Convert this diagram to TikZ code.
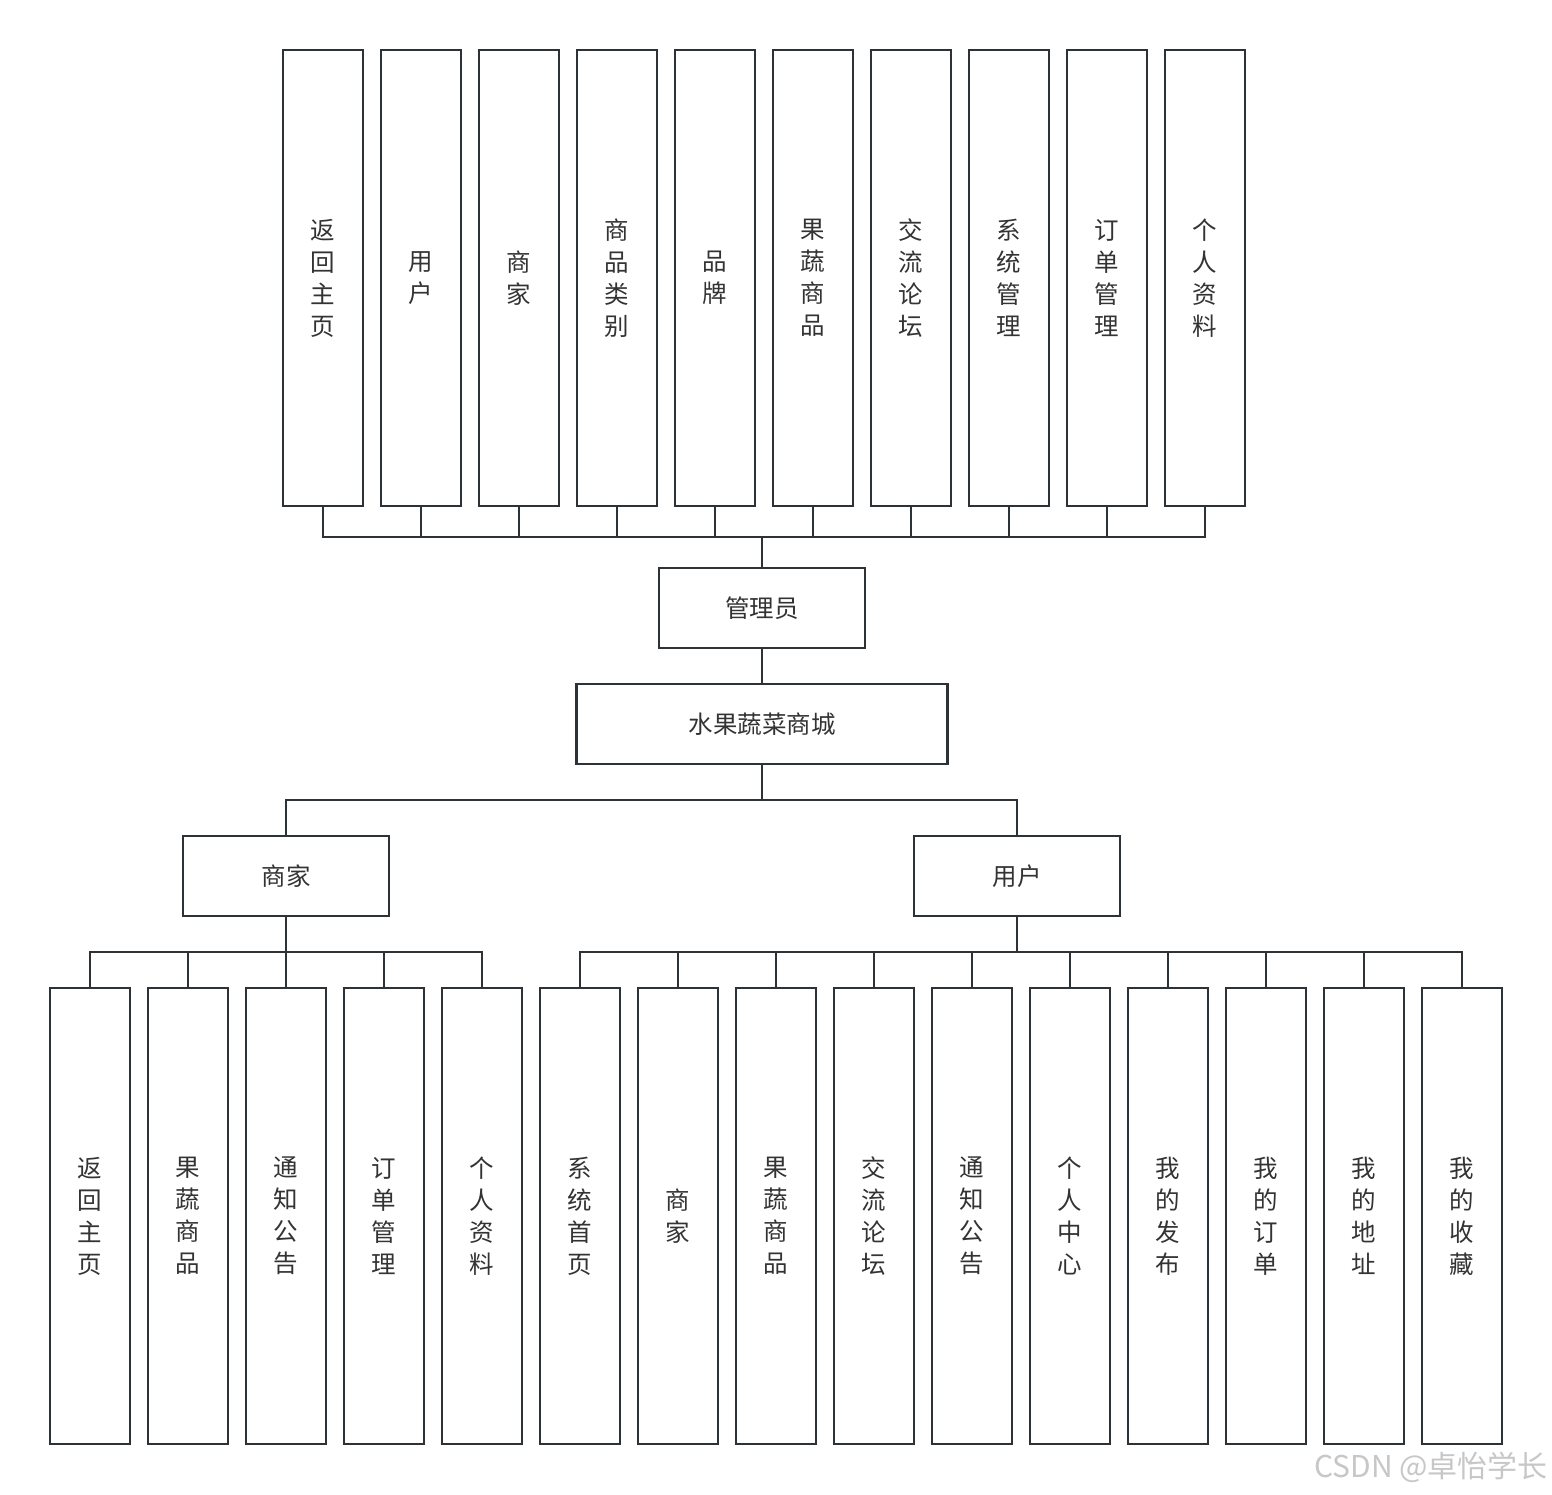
\documentclass[tikz,border=0pt]{standalone}
\usepackage{fontspec}
\setmainfont{Noto Sans CJK SC}
\definecolor{linec}{HTML}{2D3236}
\definecolor{txtc}{HTML}{333333}
\begin{document}
\begin{tikzpicture}[x=1pt,y=-1pt,
  box/.style={draw=linec,line width=2.6pt,fill=white,text=txtc,align=center,inner sep=0pt,
    font=\fontsize{24.5}{32}\selectfont},
  vbox/.style={box,minimum width=80pt,minimum height=456pt},
  hbox/.style={box,minimum height=80pt},
  conn/.style={draw=linec,line width=2.6pt}]
\useasboundingbox (0,0) rectangle (1552,1494);
\fill[white] (0,0) rectangle (1552,1494);
% top row
\foreach \i/\t in {0/{返\\回\\主\\页},1/{用\\户},2/{商\\家},3/{商\\品\\类\\别},4/{品\\牌},5/{果\\蔬\\商\\品},6/{交\\流\\论\\坛},7/{系\\统\\管\\理},8/{订\\单\\管\\理},9/{个\\人\\资\\料}}{
  \node[vbox] (t\i) at ({323+98*\i},278) {\t};
}
\node[hbox,minimum width=206pt] (admin) at (762,608) {管理员};
\node[hbox,minimum width=371pt] (shop) at (762,724) {水果蔬菜商城};
\node[hbox,minimum width=206pt] (merchant) at (286,876) {商家};
\node[hbox,minimum width=206pt] (user) at (1017,876) {用户};
% merchant children
\foreach \i/\t in {0/{返\\回\\主\\页},1/{果\\蔬\\商\\品},2/{通\\知\\公\\告},3/{订\\单\\管\\理},4/{个\\人\\资\\料}}{
  \node[vbox] (m\i) at ({90+98*\i},1216) {\t};
}
% user children
\foreach \i/\t in {0/{系\\统\\首\\页},1/{商\\家},2/{果\\蔬\\商\\品},3/{交\\流\\论\\坛},4/{通\\知\\公\\告},5/{个\\人\\中\\心},6/{我\\的\\发\\布},7/{我\\的\\订\\单},8/{我\\的\\地\\址},9/{我\\的\\收\\藏}}{
  \node[vbox] (u\i) at ({580+98*\i},1216) {\t};
}
\coordinate (topbus) at (762,537);
\coordinate (sbus) at (762,800);
\coordinate (mbus) at (286,952);
\coordinate (ubus) at (1017,952);
% connectors
\foreach \i in {0,...,9}{
  \draw[conn] (t\i.south) |- (topbus);
}
\draw[conn] (topbus) -- (admin.north);
\draw[conn] (admin.south) -- (shop.north);
\draw[conn] (shop.south) -- (sbus);
\draw[conn] (merchant.north) |- (sbus);
\draw[conn] (user.north) |- (sbus);
\draw[conn] (merchant.south) -- (mbus);
\foreach \i in {0,...,4}{
  \draw[conn] (m\i.north) |- (mbus);
}
\draw[conn] (user.south) -- (ubus);
\foreach \i in {0,...,9}{
  \draw[conn] (u\i.north) |- (ubus);
}
\node[text=black!22,font=\fontsize{30}{32}\selectfont,anchor=east,inner sep=0pt] (wm) at (1548,1467) {CSDN @卓怡学长};
\end{tikzpicture}
\end{document}
